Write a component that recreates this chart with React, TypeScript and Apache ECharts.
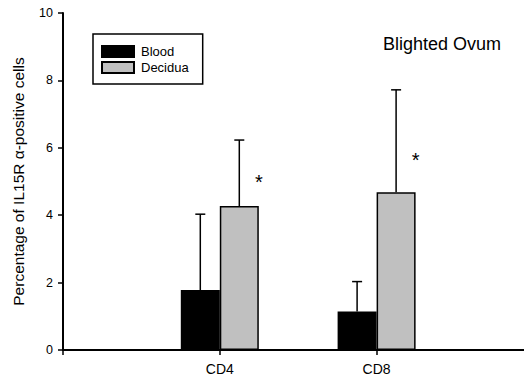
import React, { useEffect, useRef } from "react";
import * as echarts from "echarts";

const categories = ["CD4", "CD8"];
const bloodValues = [1.78, 1.14];
const bloodErrors = [2.25, 0.89];
const deciduaValues = [4.27, 4.68];
const deciduaErrors = [1.96, 3.04];
const starValues = [5.07, 5.73];
const yTicks = [0, 2, 4, 6, 8, 10];

const FONT = "'Liberation Sans', Arial, sans-serif";
const HALF = 19.5;

export default function App() {
  const ref = useRef<HTMLDivElement>(null);
  useEffect(() => {
    document.body.style.margin = "0";
    const chart = echarts.init(ref.current!, null, { renderer: "svg" });
    const pos = (i: number) => i + 1;

    const errSeries = (name: string, vals: number[], errs: number[], offset: number) => ({
      type: "custom",
      name: name + "-err",
      z: 1,
      renderItem: (params: any, api: any) => {
        const x = api.value(0);
        const v = api.value(1);
        const e = api.value(2);
        const p0 = api.coord([x, v]);
        const p1 = api.coord([x, v + e]);
        const cx = p0[0] + offset;
        const st = { stroke: "#000", lineWidth: 1.5 };
        return {
          type: "group",
          children: [
            { type: "line", shape: { x1: cx, y1: p0[1], x2: cx, y2: p1[1] }, style: st },
            { type: "line", shape: { x1: cx - 5, y1: p1[1], x2: cx + 5, y2: p1[1] }, style: st },
          ],
        };
      },
      data: vals.map((v, i) => [pos(i), v, errs[i]]),
      encode: { x: 0, y: 1 },
    });

    chart.setOption({
      animation: false,
      textStyle: { fontFamily: FONT },
      grid: { left: 63, top: 13, right: 0, height: 337 },
      legend: {
        orient: "vertical",
        left: 93,
        top: 34,
        padding: [11, 14, 10, 8],
        borderColor: "#000",
        borderWidth: 1.5,
        itemWidth: 32,
        itemHeight: 11,
        itemGap: 3,
        data: ["Blood", "Decidua"],
        textStyle: { fontSize: 13, lineHeight: 13, color: "#000", fontFamily: FONT, padding: [0, 0, 0, 2] },
        selectedMode: false,
        icon: "rect",
      },
      title: {
        text: "Blighted Ovum",
        right: 18,
        top: 30,
        textStyle: { fontSize: 18, fontWeight: "normal", color: "#000", fontFamily: FONT },
      },
      xAxis: {
        type: "value",
        min: 0,
        max: 2.94,
        interval: 1,
        axisLine: { onZero: false, lineStyle: { color: "#000", width: 2 } },
        axisTick: { show: true, length: 5, lineStyle: { color: "#000", width: 1.5 } },
        axisLabel: {
          color: "#000",
          fontSize: 14,
          margin: 12,
          fontFamily: FONT,
          showMaxLabel: false,
          formatter: (v: number) => categories[Math.round(v) - 1] ?? "",
        },
        splitLine: { show: false },
      },
      yAxis: {
        type: "value",
        min: yTicks[0],
        max: yTicks[yTicks.length - 1],
        interval: 2,
        name: "Percentage of IL15R \u03b1-positive cells",
        nameLocation: "middle",
        nameGap: 37,
        nameTextStyle: { fontSize: 15.5, color: "#000", fontFamily: FONT },
        axisLine: { show: true, lineStyle: { color: "#000", width: 2 } },
        axisTick: { show: true, length: 5, lineStyle: { color: "#000", width: 1.5 } },
        axisLabel: { color: "#000", fontSize: 12.5, margin: 10, fontFamily: FONT },
        splitLine: { show: false },
      },
      series: [
        {
          name: "Blood",
          type: "bar",
          data: bloodValues.map((v, i) => [pos(i), v]),
          barWidth: 39,
          barGap: "0%",
          z: 2,
          itemStyle: { color: "#000", borderColor: "#000", borderWidth: 1.5 },
        },
        {
          name: "Decidua",
          type: "bar",
          data: deciduaValues.map((v, i) => [pos(i), v]),
          barWidth: 39,
          barGap: "0%",
          z: 2,
          itemStyle: { color: "#c0c0c0", borderColor: "#000", borderWidth: 1.5 },
        },
        errSeries("Blood", bloodValues, bloodErrors, -HALF),
        errSeries("Decidua", deciduaValues, deciduaErrors, HALF),
        {
          type: "custom",
          name: "stars",
          renderItem: (params: any, api: any) => {
            const p = api.coord([api.value(0), api.value(1)]);
            return {
              type: "text",
              x: p[0] + 2 * HALF,
              y: p[1] + 3,
              style: {
                text: "*",
                fontSize: 20,
                fontFamily: FONT,
                fill: "#000",
                align: "center",
                verticalAlign: "middle",
              },
            };
          },
          data: starValues.map((v, i) => [pos(i), v]),
          encode: { x: 0, y: 1 },
        },
      ],
    });
    return () => chart.dispose();
  }, []);
  return <div ref={ref} style={{ width: 524, height: 380, position: "absolute", left: 0, top: 0 }} />;
}
